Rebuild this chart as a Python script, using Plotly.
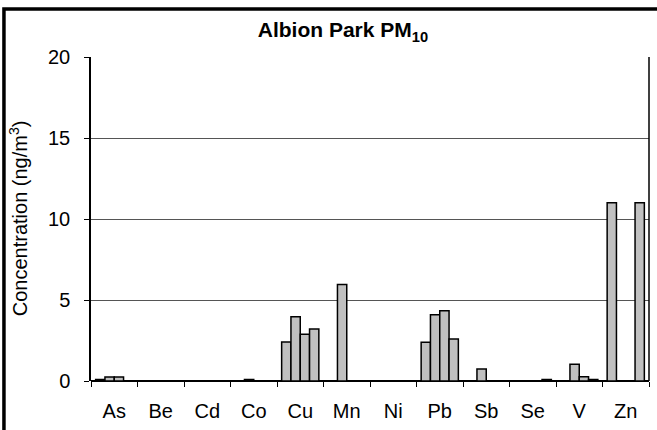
import plotly.graph_objects as go

categories = ["As", "Be", "Cd", "Co", "Cu", "Mn", "Ni", "Pb", "Sb", "Se", "V", "Zn"]
series_1 = [0.1, None, None, None, 2.4, None, None, 2.39, None, None, None, 11.0]
series_2 = [0.25, None, None, 0.1, 3.97, 5.95, None, 4.09, 0.74, None, 1.03, None]
series_3 = [0.25, None, None, None, 2.88, None, None, 4.34, None, None, 0.27, None]
series_4 = [None, None, None, None, 3.21, None, None, 2.59, None, 0.1, 0.1, 11.0]
series_names = ["Series 1", "Series 2", "Series 3", "Series 4"]
y_ticks = [0, 5, 10, 15, 20]

FONT = "Liberation Sans, Arial, sans-serif"

fig = go.Figure()
for name, vals in zip(series_names, [series_1, series_2, series_3, series_4]):
    fig.add_trace(go.Bar(
        x=categories, y=vals, name=name,
        marker=dict(color="#C0C0C0", line=dict(color="black", width=1.5)),
    ))

fig.update_layout(
    width=657, height=430,
    margin=dict(l=91, r=8, t=57, b=49),
    paper_bgcolor="white", plot_bgcolor="white",
    barmode="group", bargap=0.2, bargroupgap=0,
    showlegend=False,
    font=dict(family=FONT, size=20, color="black"),
    title=dict(text="<b>Albion Park PM<sub>10</sub></b>", x=0.522, xanchor="center",
               y=0.93, yanchor="middle", font=dict(family=FONT, size=21, color="black")),
    xaxis=dict(
        type="category", tickson="boundaries", ticks="outside", ticklen=5,
        tickcolor="black", showline=False, showgrid=False,
        tickfont=dict(size=20), ticklabelstandoff=16,
    ),
    yaxis=dict(
        range=[0, 20], tickvals=y_ticks, ticks="outside", ticklen=5, tickcolor="black",
        showline=True, linecolor="black", linewidth=1.5,
        showgrid=True, gridcolor="#555555", gridwidth=1,
        zeroline=True, zerolinecolor="black", zerolinewidth=1.5,
        tickfont=dict(size=20), ticklabelstandoff=10,
    ),
    annotations=[dict(
        text="Concentration (ng/m<sup>3</sup>)", textangle=-90,
        xref="paper", yref="paper", x=-0.131, y=0.502,
        xanchor="center", yanchor="middle", showarrow=False,
        font=dict(family=FONT, size=20, color="black"),
    )],
    shapes=[
        dict(type="line", xref="paper", yref="paper", x0=1, x1=1, y0=0, y1=1,
             line=dict(color="black", width=1.5)),
        dict(type="rect", xref="paper", yref="paper", x0=-0.156, x1=1.2, y0=-0.5, y1=1.148,
             line=dict(color="black", width=3.5), layer="above"),
    ],
)

fig.write_html("out.html", config={"displayModeBar": False},
               post_script="document.body.style.margin='0';document.body.style.overflow='hidden';")
